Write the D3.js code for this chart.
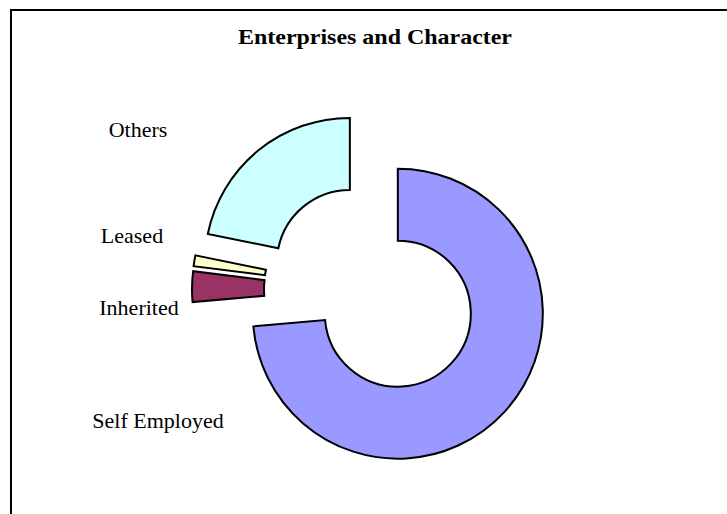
<!DOCTYPE html>
<html>
<head>
<meta charset="utf-8">
<script src="https://cdn.jsdelivr.net/npm/d3@7"></script>
<style>
  html, body { margin: 0; padding: 0; background: #fff; }
  svg { display: block; }
</style>
</head>
<body>
<svg id="chart" width="727" height="514"></svg>
<script>
// ---- data ----
const categories = ["Self Employed", "Inherited", "Leased", "Others"];
const values = [73.6, 3.4, 1.2, 21.8];
const colors = ["#9999FF", "#993366", "#FFFFCC", "#CCFFFF"];
const title = "Enterprises and Character";

// ---- layout ----
const W = 727, H = 514;
const cx = 372, cy = 290;
const outerR = 145, innerR = 73, explode = 35;
// label anchor points (text centre, baseline)
const labelAnchors = [[158, 428], [139, 315], [132, 243], [138, 137]];

const svg = d3.select("#chart");

// border
svg.append("rect")
  .attr("x", 11).attr("y", 10)
  .attr("width", W + 20).attr("height", H + 20)
  .attr("fill", "#fff").attr("stroke", "#000").attr("stroke-width", 2);

// title
svg.append("text")
  .attr("x", 375).attr("y", 44)
  .attr("text-anchor", "middle")
  .attr("font-family", "'Liberation Serif', 'Times New Roman', serif")
  .attr("font-weight", "bold")
  .attr("font-size", 21)
  .attr("textLength", 274)
  .attr("lengthAdjust", "spacingAndGlyphs")
  .text(title);

const pie = d3.pie().sort(null).value(d => d.v).startAngle(0).endAngle(2 * Math.PI);
const arc = d3.arc().innerRadius(innerR).outerRadius(outerR);
const data = categories.map((c, i) => ({ c, v: values[i], col: colors[i], i }));
const arcs = pie(data);

const g = svg.append("g").attr("transform", `translate(${cx},${cy})`);
g.selectAll("path")
  .data(arcs)
  .join("path")
  .attr("transform", d => {
    const a = (d.startAngle + d.endAngle) / 2;
    return `translate(${explode * Math.sin(a)},${-explode * Math.cos(a)})`;
  })
  .attr("d", arc)
  .attr("fill", d => d.data.col)
  .attr("stroke", "#000")
  .attr("stroke-width", 2)
  .attr("stroke-linejoin", "miter");

// labels
svg.selectAll("text.lbl")
  .data(arcs)
  .join("text")
  .attr("class", "lbl")
  .attr("x", d => labelAnchors[d.index][0])
  .attr("y", d => labelAnchors[d.index][1])
  .attr("text-anchor", "middle")
  .attr("font-family", "'Liberation Serif', 'Times New Roman', serif")
  .attr("font-size", 22)
  .attr("fill", "#000")
  .text(d => d.data.c);
</script>
</body>
</html>
